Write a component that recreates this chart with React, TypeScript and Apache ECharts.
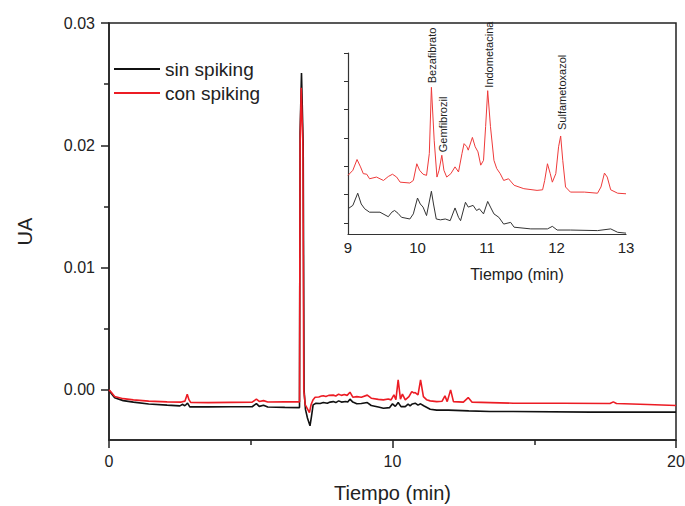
import React, { useEffect, useRef } from "react";
import * as echarts from "echarts";

const FONT = "'Liberation Sans', Arial, Helvetica, sans-serif";
const RED = "#ec1c24";
const BLACK = "#111111";
const AXIS = "#222222";

const seriesNames = ["sin spiking", "con spiking"];
const mainYTicks = [0, 0.01, 0.02, 0.03];
const mainYMinorTicks = [0.005, 0.015, 0.025];
const insetYTicks = [0, 1, 2, 3, 4, 5, 6];

// main chromatogram, sin spiking (time min, UA)
const mainSin: [number, number][] = [
  [0, 0], [0.08, -0.0003], [0.2, -0.00065], [0.5, -0.00088], [0.86, -0.001], [1.4, -0.00116],
  [2.05, -0.00125], [2.5, -0.00131], [2.6, -0.00118], [2.66, -0.0013], [2.72, -0.0012], [2.77, -0.00109],
  [2.85, -0.00139], [3.5, -0.00139], [4.3, -0.00138], [5.05, -0.00138], [5.2, -0.00112], [5.3, -0.00135],
  [5.45, -0.00125], [5.6, -0.0014], [6.2, -0.00143], [6.72, -0.00145], [6.74, 0.021], [6.79, 0.0259],
  [6.85, 0.02], [6.88, 0.0], [6.93, -0.0016], [7.0, -0.0023], [7.09, -0.00294], [7.14, -0.0022],
  [7.2, -0.00123], [7.3, -0.0011], [7.45, -0.00112], [7.56, -0.00104], [7.7, -0.0011], [7.8, -0.001],
  [7.91, -0.00096], [8.0, -0.00104], [8.1, -0.0009], [8.2, -0.001], [8.35, -0.00095], [8.42, -0.001],
  [8.5, -0.00076], [8.6, -0.001], [8.74, -0.00114], [8.9, -0.00112], [9.11, -0.00104], [9.25, -0.00128],
  [9.5, -0.0014], [9.68, -0.0015], [9.9, -0.00145], [10.0, -0.00114], [10.1, -0.00135], [10.2, -0.00104],
  [10.3, -0.00137], [10.45, -0.00137], [10.55, -0.00117], [10.62, -0.0013], [10.7, -0.00115], [10.8, -0.00109],
  [10.9, -0.00125], [10.99, -0.00114], [11.1, -0.0013], [11.33, -0.00158], [11.56, -0.00166], [11.98, -0.00166],
  [12.69, -0.00172], [13.44, -0.00177], [14.26, -0.00177], [17.0, -0.00182], [20.0, -0.00182],
];

// main chromatogram, con spiking
const mainCon: [number, number][] = [
  [0, 0], [0.08, -0.0002], [0.2, -0.00055], [0.5, -0.00072], [0.86, -0.00082], [1.4, -0.00092],
  [2.05, -0.00098], [2.55, -0.001], [2.68, -0.00092], [2.76, -0.00035], [2.82, -0.0008], [2.88, -0.00102],
  [3.5, -0.00104], [4.3, -0.00102], [5.05, -0.001], [5.2, -0.00076], [5.3, -0.00095], [5.45, -0.00088],
  [5.6, -0.00099], [6.2, -0.00098], [6.72, -0.00098], [6.74, 0.02], [6.78, 0.0247], [6.84, 0.02],
  [6.87, 0.0], [6.92, -0.0012], [7.07, -0.00186], [7.13, -0.0012], [7.2, -0.0008], [7.27, -0.0006],
  [7.4, -0.00058], [7.5, -0.0005], [7.56, -0.00049], [7.65, -0.00055], [7.75, -0.00045], [7.91, -0.00043],
  [8.0, -0.0005], [8.1, -0.00035], [8.2, -0.00045], [8.3, -0.00038], [8.4, -0.00045], [8.5, -0.00019],
  [8.6, -0.0006], [8.74, -0.00055], [8.9, -0.0006], [9.11, -0.00043], [9.25, -0.00068], [9.5, -0.00078],
  [9.68, -0.00082], [9.85, -0.00075], [9.95, -0.00082], [10.05, -0.00041], [10.12, -0.0008], [10.2, 0.00082],
  [10.28, -0.00076], [10.35, -0.00035], [10.45, -0.00082], [10.58, -0.00055], [10.68, -0.00014], [10.75, -0.00025],
  [10.8, -0.00022], [10.9, -0.00041], [10.99, 0.00082], [11.09, -0.00055], [11.2, -0.0008], [11.33, -0.0009],
  [11.56, -0.00096], [11.75, -0.00093], [11.85, -0.00049], [11.93, -0.00096], [12.05, 0.0], [12.15, -0.00096],
  [12.5, -0.001], [12.67, -0.00063], [12.8, -0.001], [13.44, -0.00104], [14.26, -0.00109], [16.0, -0.0011],
  [17.67, -0.00112], [17.79, -0.00098], [17.9, -0.00112], [19.0, -0.0012], [20.0, -0.00128],
];

// inset (9-13 min), arbitrary units
const insetCon: [number, number][] = [
  [9.0, 1.68], [9.07, 1.86], [9.13, 2.24], [9.18, 1.98], [9.22, 1.74], [9.27, 1.72], [9.31, 1.56],
  [9.41, 1.62], [9.51, 1.5], [9.58, 1.64], [9.64, 1.72], [9.7, 1.62], [9.75, 1.44], [9.89, 1.41],
  [9.94, 1.5], [9.99, 2.09], [10.03, 1.86], [10.08, 1.72], [10.13, 1.68], [10.17, 2.45], [10.2, 4.79],
  [10.24, 2.92], [10.28, 1.62], [10.31, 1.86], [10.35, 2.39], [10.38, 1.86], [10.42, 1.62], [10.48, 1.74],
  [10.54, 1.98], [10.59, 1.8], [10.64, 2.45], [10.67, 2.8], [10.71, 2.69], [10.73, 2.57], [10.79, 3.02],
  [10.83, 2.69], [10.87, 2.51], [10.91, 2.04], [10.95, 2.21], [10.98, 3.4], [11.01, 4.67], [11.05, 3.4],
  [11.1, 2.21], [11.14, 1.92], [11.19, 1.74], [11.24, 1.5], [11.31, 1.56], [11.39, 1.33], [11.53, 1.21],
  [11.72, 1.15], [11.8, 1.17], [11.83, 1.5], [11.87, 2.09], [11.91, 1.74], [11.94, 1.44], [11.99, 1.74],
  [12.03, 2.69], [12.06, 3.07], [12.09, 2.21], [12.13, 1.27], [12.2, 1.09], [12.4, 1.09], [12.59, 1.05],
  [12.64, 1.27], [12.69, 1.76], [12.73, 1.62], [12.78, 1.17], [12.88, 1.05], [13.0, 1.03],
];

const insetSin: [number, number][] = [
  [9.0, 0.5], [9.07, 0.62], [9.14, 1.05], [9.19, 0.67], [9.24, 0.5], [9.31, 0.38], [9.46, 0.38],
  [9.58, 0.22], [9.63, 0.38], [9.67, 0.44], [9.72, 0.34], [9.77, 0.2], [9.89, 0.14], [9.94, 0.32],
  [10.0, 0.88], [10.04, 0.67], [10.08, 0.56], [10.13, 0.26], [10.2, 1.12], [10.23, 0.67], [10.27, 0.14],
  [10.33, 0.11], [10.4, 0.14], [10.47, 0.08], [10.54, 0.53], [10.59, 0.2], [10.62, 0.08], [10.69, 0.73],
  [10.73, 0.56], [10.8, 0.62], [10.85, 0.44], [10.89, 0.5], [10.95, 0.32], [11.01, 0.76], [11.05, 0.56],
  [11.1, 0.32], [11.17, 0.2], [11.24, -0.04], [11.34, 0.02], [11.39, -0.15], [11.63, -0.21], [11.87, -0.21],
  [11.94, -0.12], [12.01, -0.25], [12.2, -0.25], [12.59, -0.27], [12.78, -0.21], [12.88, -0.33], [13.0, -0.36],
];

const peakNames = ["Bezafibrato", "Gemfibrozil", "Indometacina", "Sulfametoxazol"];
const peakTimes = [10.2, 10.35, 11.01, 12.06];
const peakHeights = [4.79, 2.39, 4.67, 3.07];

export default function App() {
  const ref = useRef<HTMLDivElement>(null);

  useEffect(() => {
    if (!ref.current) return;
    const chart = echarts.init(ref.current, undefined, { renderer: "svg" });

    const axisLineStyle = { color: AXIS, width: 1.5 };
    const option: any = {
      animation: false,
      backgroundColor: "#ffffff",
      textStyle: { fontFamily: FONT },
      grid: [
        {
          left: 109, top: 23, right: 9, bottom: 66,
          show: true, borderColor: AXIS, borderWidth: 1.5,
          outerBoundsMode: "none", containLabel: false,
        },
        { left: 348, top: 53, width: 278, height: 181, outerBoundsMode: "none", containLabel: false },
      ],
      legend: {
        data: seriesNames,
        orient: "vertical",
        left: 114,
        top: 59,
        icon: "rect",
        itemWidth: 46,
        itemHeight: 2,
        itemGap: 4,
        padding: 0,
        textStyle: { fontSize: 19, color: AXIS, fontFamily: FONT, lineHeight: 20 },
      },
      xAxis: [
        {
          type: "value",
          gridIndex: 0,
          min: 0,
          max: 20,
          interval: 10,
          axisLine: { show: true, onZero: false, lineStyle: axisLineStyle },
          axisTick: { show: true, length: 8, lineStyle: axisLineStyle },
          minorTick: { show: true, splitNumber: 2, length: 5, lineStyle: axisLineStyle },
          splitLine: { show: false },
          minorSplitLine: { show: false },
          axisLabel: { fontSize: 16, color: AXIS, margin: 13, fontFamily: FONT },
          name: "Tiempo (min)",
          nameLocation: "middle",
          nameGap: 43,
          nameTextStyle: { fontSize: 20, color: AXIS, fontFamily: FONT },
        },
        {
          type: "value",
          gridIndex: 1,
          min: 9,
          max: 13,
          interval: 1,
          axisLine: { show: true, onZero: false, lineStyle: { color: "#333", width: 1.2 } },
          axisTick: { show: false },
          splitLine: { show: false },
          axisLabel: { fontSize: 15, color: AXIS, margin: 6, fontFamily: FONT },
          name: "Tiempo (min)",
          nameLocation: "middle",
          nameGap: 32,
          nameTextStyle: { fontSize: 16, color: AXIS, fontFamily: FONT, padding: [0, 0, 0, 60] },
        },
      ],
      yAxis: [
        {
          type: "value",
          gridIndex: 0,
          min: -0.0041,
          max: 0.03,
          axisLine: { show: true, onZero: false, lineStyle: axisLineStyle },
          axisTick: { show: true, length: 8, lineStyle: axisLineStyle, customValues: mainYTicks },
          splitLine: { show: false },
          axisLabel: {
            fontSize: 16,
            color: AXIS,
            margin: 14,
            fontFamily: FONT,
            customValues: mainYTicks,
            formatter: (v: number) => v.toFixed(2),
          },
          name: "UA",
          nameLocation: "middle",
          nameGap: 74,
          nameRotate: 90,
          nameTextStyle: { fontSize: 20, color: AXIS, fontFamily: FONT },
        },
        {
          type: "value",
          gridIndex: 0,
          position: "left",
          min: -0.0041,
          max: 0.03,
          axisLine: { show: false },
          axisTick: { show: true, length: 5, lineStyle: axisLineStyle, customValues: mainYMinorTicks },
          axisLabel: { show: false },
          splitLine: { show: false },
        },
        {
          type: "value",
          gridIndex: 1,
          min: -0.39,
          max: 6,
          axisLine: { show: true, onZero: false, lineStyle: { color: "#333", width: 1.2 } },
          axisTick: { show: true, length: 4, lineStyle: { color: "#333", width: 1 }, customValues: insetYTicks },
          axisLabel: { show: false },
          splitLine: { show: false },
        },
      ],
      series: [
        {
          name: seriesNames[0],
          type: "line",
          xAxisIndex: 0,
          yAxisIndex: 0,
          data: mainSin,
          showSymbol: false,
          symbol: "none",
          lineStyle: { color: BLACK, width: 1.6 },
          itemStyle: { color: BLACK },
        },
        {
          name: seriesNames[1],
          type: "line",
          xAxisIndex: 0,
          yAxisIndex: 0,
          data: mainCon,
          showSymbol: false,
          symbol: "none",
          lineStyle: { color: RED, width: 1.6 },
          itemStyle: { color: RED },
        },
        {
          name: seriesNames[0],
          type: "line",
          xAxisIndex: 1,
          yAxisIndex: 2,
          data: insetSin,
          showSymbol: false,
          symbol: "none",
          lineStyle: { color: "#333", width: 1 },
          itemStyle: { color: BLACK },
        },
        {
          name: seriesNames[1],
          type: "line",
          xAxisIndex: 1,
          yAxisIndex: 2,
          data: insetCon,
          showSymbol: false,
          symbol: "none",
          lineStyle: { color: "#ee3a3a", width: 1 },
          itemStyle: { color: RED },
        },
      ],
    };

    chart.setOption(option);

    const gaps = [4, 3, 3, 6];
    const graphics = peakNames.map((name, i) => {
      const p = chart.convertToPixel({ gridIndex: 1 } as any, [peakTimes[i], peakHeights[i]]) as number[];
      return {
        type: "text",
        x: p[0] + 1,
        y: p[1] - gaps[i],
        rotation: Math.PI / 2,
        style: {
          text: name,
          fontSize: 11,
          fontFamily: FONT,
          fill: "#222",
          align: "left",
          verticalAlign: "middle",
        },
        z: 10,
      };
    });
    chart.setOption({ graphic: graphics });

    return () => chart.dispose();
  }, []);

  return (
    <div
      ref={ref}
      style={{ position: "fixed", left: 0, top: 0, width: 685, height: 506, background: "#fff" }}
    />
  );
}
